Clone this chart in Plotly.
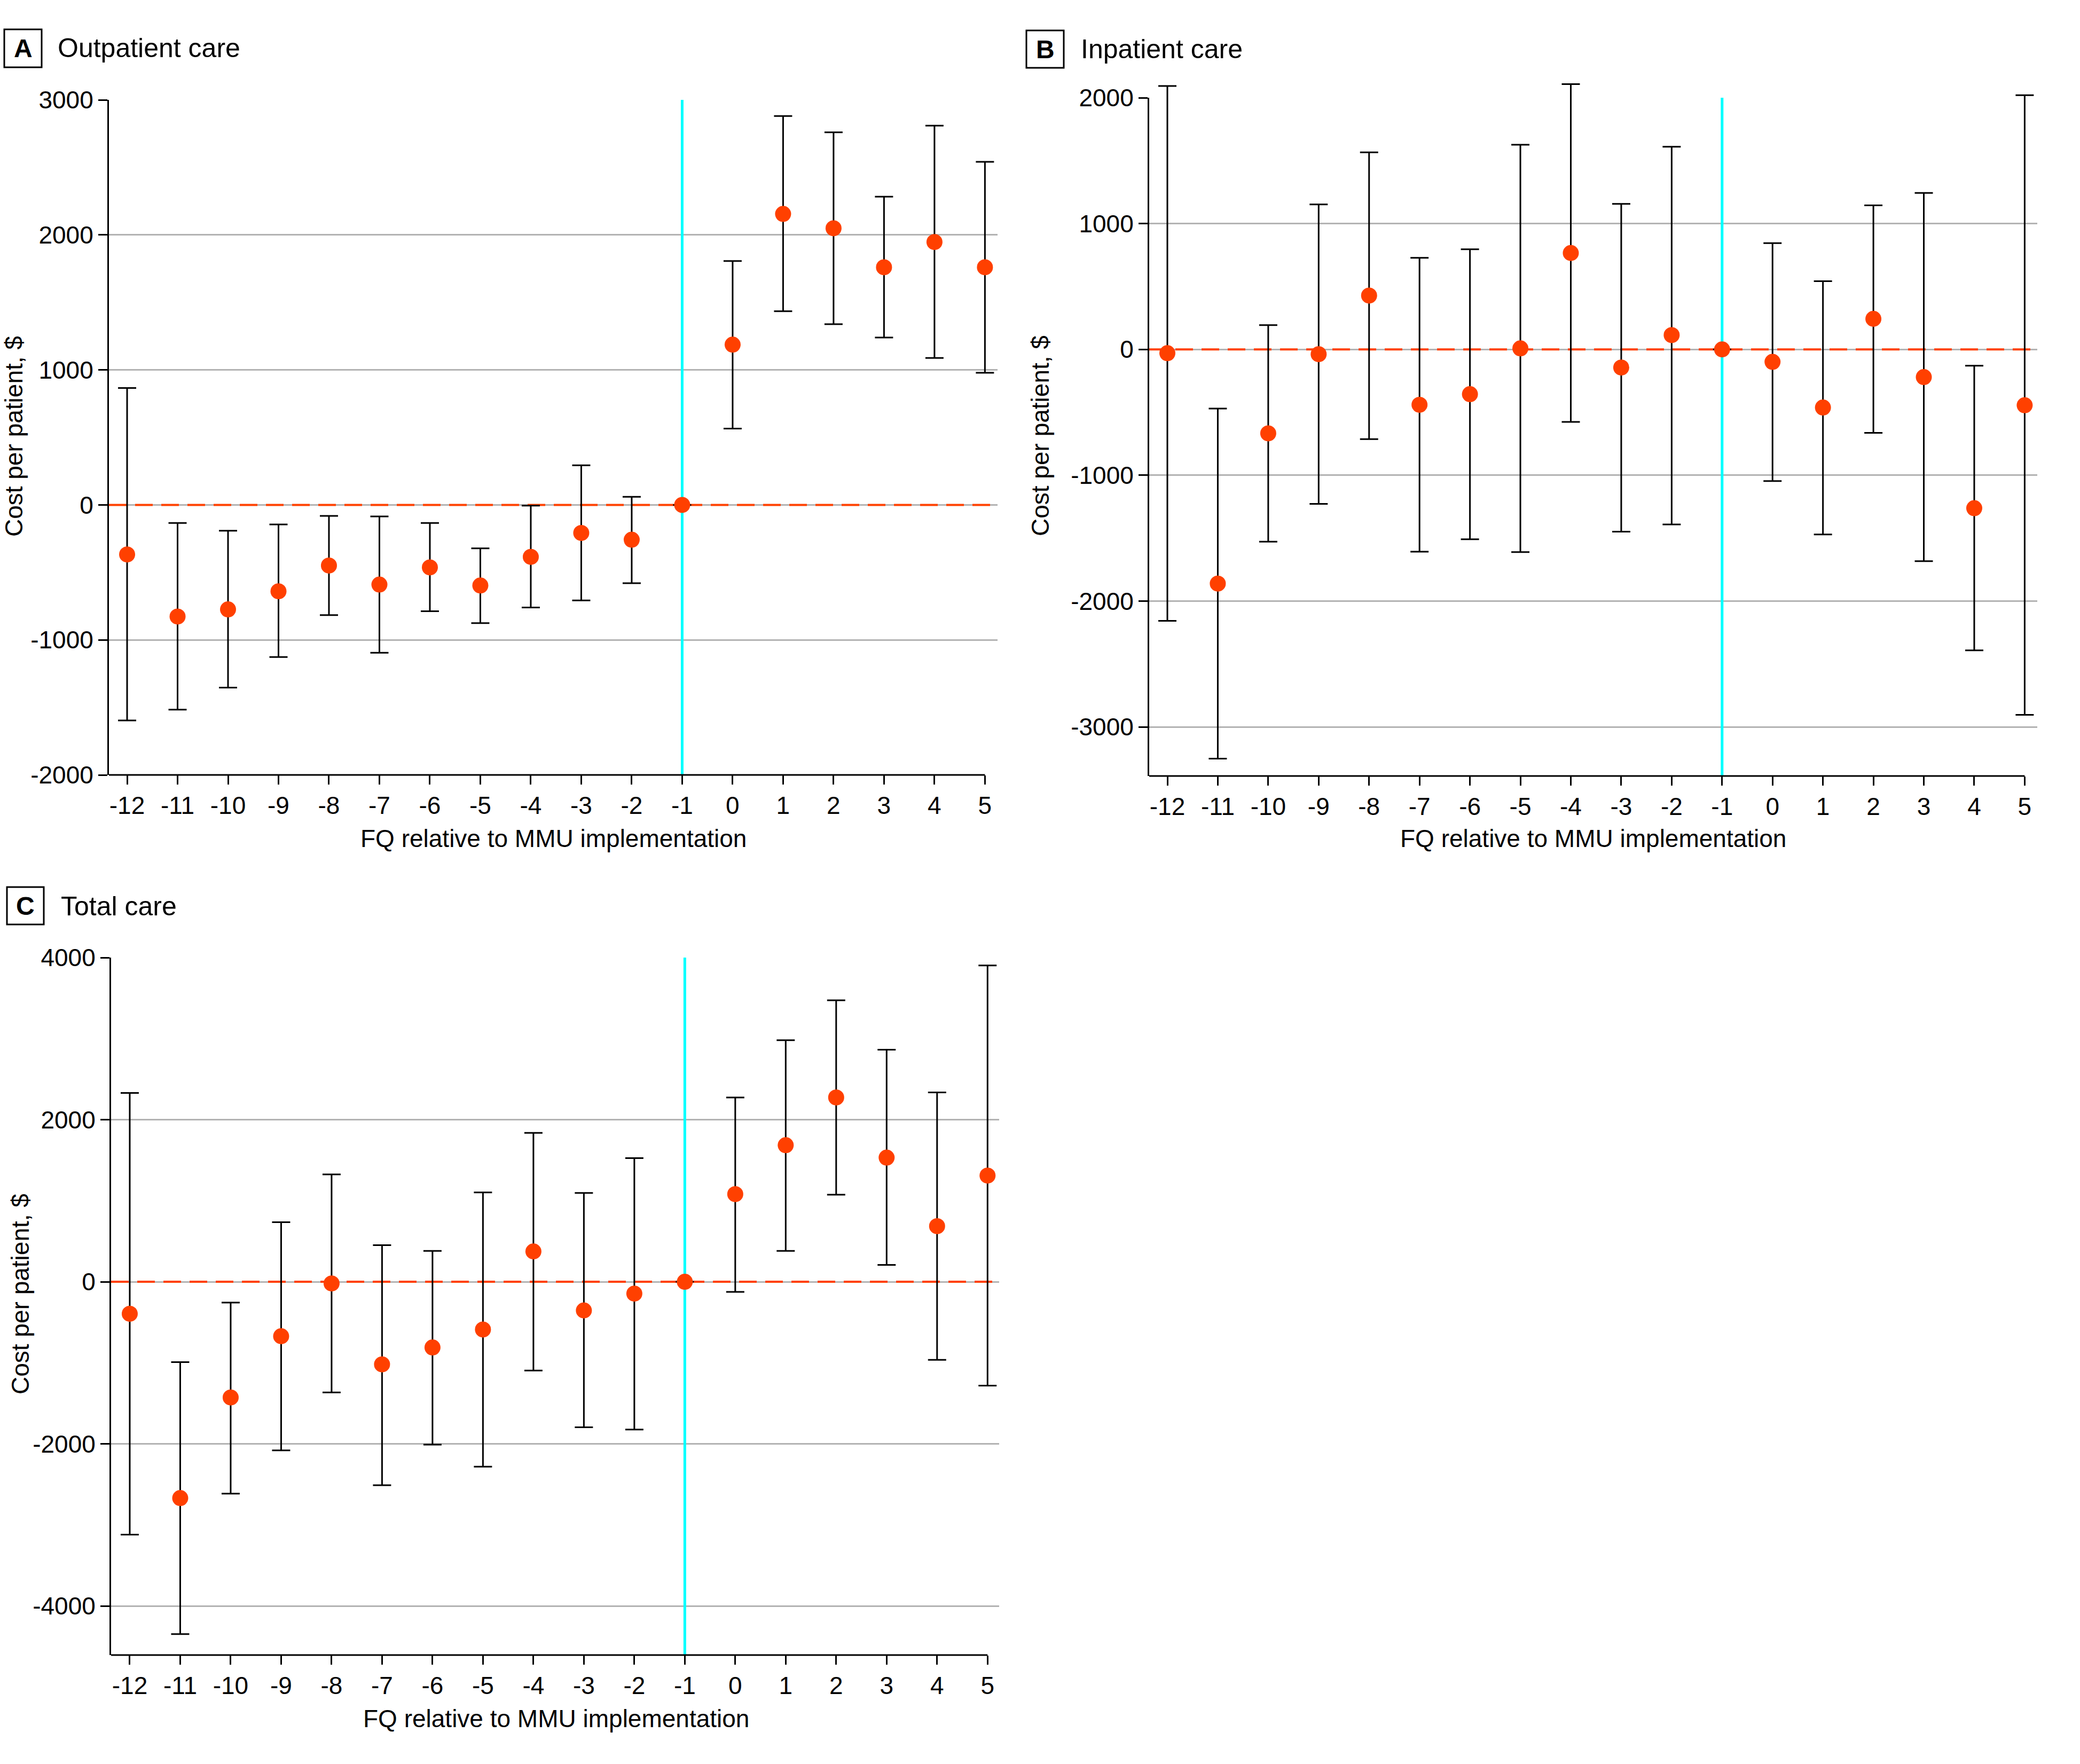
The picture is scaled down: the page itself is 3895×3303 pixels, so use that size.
import plotly.graph_objects as go

W, H = 3895, 3303

quarters = [-12, -11, -10, -9, -8, -7, -6, -5, -4, -3, -2, -1, 0, 1, 2, 3, 4, 5]
quarter_labels = ["-12", "-11", "-10", "-9", "-8", "-7", "-6", "-5", "-4", "-3", "-2", "-1",
                  "0", "1", "2", "3", "4", "5"]

out_est = [-367, -827, -774, -640, -449, -590, -463, -597, -385, -208, -258, 0, 1187, 2155, 2049, 1760, 1947, 1760]
out_hi = [866, -134, -191, -145, -81, -85, -134, -322, -5, 293, 60, 0, 1806, 2880, 2760, 2283, 2809, 2541]
out_lo = [-1597, -1516, -1353, -1127, -816, -1095, -788, -876, -760, -707, -580, 0, 565, 1435, 1339, 1240, 1088, 979]

inp_est = [-30, -1861, -667, -38, 428, -440, -356, 8, 766, -144, 114, 0, -99, -462, 243, -220, -1262, -444]
inp_hi = [2093, -470, 193, 1152, 1566, 728, 796, 1626, 2108, 1156, 1611, 0, 845, 542, 1145, 1243, -129, 2020]
inp_lo = [-2157, -3252, -1528, -1228, -713, -1607, -1509, -1611, -576, -1448, -1391, 0, -1046, -1471, -663, -1683, -2392, -2904]

tot_est = [-395, -2669, -1428, -672, -21, -1019, -811, -589, 374, -354, -146, 0, 1081, 1685, 2274, 1532, 686, 1310]
tot_hi = [2329, -991, -257, 735, 1324, 451, 381, 1102, 1837, 1095, 1525, 0, 2274, 2981, 3473, 2863, 2336, 3903]
tot_lo = [-3120, -4347, -2614, -2080, -1366, -2510, -2010, -2281, -1095, -1795, -1823, 0, -125, 381, 1075, 208, -964, -1282]

out_ticks = [-2000, -1000, 0, 1000, 2000, 3000]
inp_ticks = [-3000, -2000, -1000, 0, 1000, 2000]
tot_ticks = [-4000, -2000, 0, 2000, 4000]

panels = [
    dict(title="Outpatient care", letter="A", est=out_est, hi=out_hi, lo=out_lo, yticks=out_ticks,
         xpx=(204, 1868), ypx=(187, 1451), xr=[-12.36, 5.25], yr=[-2000, 3000],
         box=(8, 55, 78, 126), title_x=106, title_y=90,
         ytitle=(26, 817), xtitle=(1036, 1570)),
    dict(title="Inpatient care", letter="B", est=inp_est, hi=inp_hi, lo=inp_lo, yticks=inp_ticks,
         xpx=(2152, 3815), ypx=(183, 1453), xr=[-12.36, 5.25], yr=[-3390, 2000],
         box=(1922, 57, 1992, 127), title_x=2022, title_y=92,
         ytitle=(1948, 816), xtitle=(2983, 1570)),
    dict(title="Total care", letter="C", est=tot_est, hi=tot_hi, lo=tot_lo, yticks=tot_ticks,
         xpx=(208, 1871), ypx=(1793, 3099), xr=[-12.37, 5.23], yr=[-4606, 4000],
         box=(13, 1661, 82, 1731), title_x=112, title_y=1697,
         ytitle=(38, 2423), xtitle=(1041, 3218)),
]

FONT = "Liberation Sans, Arial, sans-serif"
RED = "#FF4000"
CYAN = "#00FFFF"
EXTRA = 45  # px of head-room above each plot so error-bar caps are not clipped


def px(x):
    return x / W


def py(y):
    return 1 - y / H


fig = go.Figure()
shapes = []
annotations = []

for i, p in enumerate(panels):
    n = "" if i == 0 else str(i + 1)
    xa, ya = "x" + n, "y" + n
    yh = "y" + str(i + 4)  # hidden axis with same scale, extended upward
    # dashed zero reference line
    fig.add_trace(go.Scatter(
        x=[p["xr"][0], p["xr"][1]], y=[0, 0], xaxis=xa, yaxis=ya, mode="lines",
        line=dict(color=RED, width=4, dash="33px,16px"), showlegend=False, hoverinfo="skip"))
    # implementation marker line
    fig.add_trace(go.Scatter(
        x=[-1, -1], y=[p["yr"][0], p["yr"][1]], xaxis=xa, yaxis=ya, mode="lines",
        line=dict(color=CYAN, width=5), showlegend=False, hoverinfo="skip"))
    plus = [h - e for h, e in zip(p["hi"], p["est"])]
    minus = [e - l for e, l in zip(p["est"], p["lo"])]
    fig.add_trace(go.Scatter(
        x=quarters, y=p["est"], xaxis=xa, yaxis=yh, mode="markers",
        marker=dict(color=RED, size=30, line=dict(width=0)),
        error_y=dict(type="data", symmetric=False, array=plus, arrayminus=minus,
                     color="black", thickness=3, width=17),
        cliponaxis=False, showlegend=False, hoverinfo="skip",
    ))
    fig.layout["xaxis" + n] = dict(
        domain=[px(p["xpx"][0]), px(p["xpx"][1])], range=p["xr"], anchor=ya,
        tickmode="array", tickvals=quarters, ticktext=quarter_labels,
        ticks="outside", ticklen=17, tickwidth=3, tickcolor="black",
        showgrid=False, zeroline=False, showline=False, automargin=False,
        tickfont=dict(family=FONT, size=46, color="black"),
    )
    fig.layout["yaxis" + n] = dict(
        domain=[py(p["ypx"][1]), py(p["ypx"][0])], range=p["yr"], anchor=xa,
        tickmode="array", tickvals=p["yticks"], ticktext=[str(v) for v in p["yticks"]],
        ticks="outside", ticklen=17, tickwidth=3, tickcolor="black",
        showgrid=True, gridcolor="#B3B3B3", gridwidth=3, zeroline=False,
        showline=True, linecolor="black", linewidth=3, automargin=False,
        tickfont=dict(family=FONT, size=46, color="black"),
    )
    per_px = (p["yr"][1] - p["yr"][0]) / (p["ypx"][1] - p["ypx"][0])
    fig.layout["yaxis" + str(i + 4)] = dict(
        domain=[py(p["ypx"][1]), py(p["ypx"][0] - EXTRA)],
        range=[p["yr"][0], p["yr"][1] + EXTRA * per_px], anchor=xa,
        visible=False, showgrid=False, zeroline=False, automargin=False,
    )
    # bottom axis line (ends at last tick)
    shapes.append(dict(type="line", xref=xa, yref="paper", x0=p["xr"][0], x1=5,
                       y0=py(p["ypx"][1]), y1=py(p["ypx"][1]),
                       line=dict(color="black", width=3)))
    # letter box
    bx0, by0, bx1, by1 = p["box"]
    shapes.append(dict(type="rect", xref="paper", yref="paper", x0=px(bx0), x1=px(bx1),
                       y0=py(by1), y1=py(by0), line=dict(color="black", width=3)))
    annotations.append(dict(xref="paper", yref="paper", x=px((bx0 + bx1) / 2), y=py((by0 + by1) / 2),
                            text="<b>" + p["letter"] + "</b>", showarrow=False,
                            xanchor="center", yanchor="middle",
                            font=dict(family=FONT, size=48, color="black")))
    annotations.append(dict(xref="paper", yref="paper", x=px(p["title_x"]), y=py(p["title_y"]),
                            text=p["title"], showarrow=False, xanchor="left", yanchor="middle",
                            font=dict(family=FONT, size=50, color="black")))
    annotations.append(dict(xref="paper", yref="paper", x=px(p["ytitle"][0]), y=py(p["ytitle"][1]),
                            text="Cost per patient, $", showarrow=False, textangle=-90,
                            xanchor="center", yanchor="middle",
                            font=dict(family=FONT, size=46, color="black")))
    annotations.append(dict(xref="paper", yref="paper", x=px(p["xtitle"][0]), y=py(p["xtitle"][1]),
                            text="FQ relative to MMU implementation", showarrow=False,
                            xanchor="center", yanchor="middle",
                            font=dict(family=FONT, size=46, color="black")))

fig.update_layout(
    width=W, height=H, margin=dict(l=0, r=0, t=0, b=0, pad=0, autoexpand=False),
    paper_bgcolor="white", plot_bgcolor="rgba(0,0,0,0)",
    shapes=shapes, annotations=annotations, showlegend=False,
)

fig.write_html("out.html")
